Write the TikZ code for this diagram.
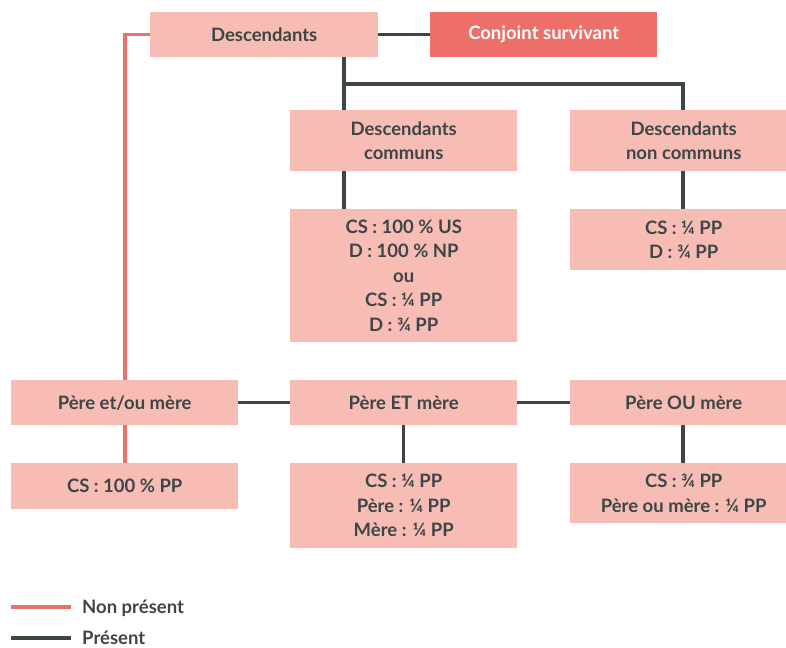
\documentclass[tikz,border=0pt]{standalone}
\usepackage{fontspec}
\setmainfont{Lato}
\usetikzlibrary{positioning}
\definecolor{boxpink}{HTML}{F7BDB5}
\definecolor{boxred}{HTML}{EC7069}
\definecolor{darkline}{HTML}{3E4548}
\definecolor{redline}{HTML}{EC7069}
\tikzset{
    box/.style={
    rectangle,fill=boxpink,text=darkline,anchor=north west,inner sep=0pt,
    minimum width=227pt,minimum height=45pt,align=center,
    font=\bfseries\fontsize{18.5}{24.5}\selectfont
    },
    keybox/.style={
    box,fill=boxred,text=white
    },
    present/.style={
    draw=darkline,line width=3.3pt
    },
    absent/.style={
    draw=redline,line width=3.3pt
    },
    legend/.style={
    text=darkline,inner sep=0pt,anchor=west,text height=13pt,text depth=0pt,
    font=\bfseries\fontsize{18.5}{20}\selectfont
    },
}
\begin{document}
\begin{tikzpicture}[x=1pt, y=-1pt]
   \clip (0,0) rectangle (786,647);
   % boxes
   \node[box, minimum width=228pt] (desc) at (150,12) {Descendants};
   \node[keybox] (conj) at (430,12) {Conjoint survivant};
   \node[box, minimum height=61pt] (dcom) at (290,110) {Descendants\\communs};
   \node[box, minimum height=61pt] (dnon) at (570,110) {Descendants\\non communs};
   \node[box, minimum height=133pt] (rcom) at (290,209) {CS : 100 \% US\\D : 100 \% NP\\ou\\CS : ¼ PP\\D : ¾ PP};
   \node[box, minimum height=61pt] (rnon) at (570,209) {CS : ¼ PP\\D : ¾ PP};
   \node[box] (peou) at (11,380) {Père et/ou mère};
   \node[box] (pet) at (290,380) {Père ET mère};
   \node[box] (pou) at (570,380) {Père OU mère};
   \node[box, minimum height=46pt] (rpeou) at (11,463) {CS : 100 \% PP};
   \node[box, minimum height=85pt] (rpet) at (290,463) {CS : ¼ PP\\Père : ¼ PP\\Mère : ¼ PP};
   \node[box, minimum height=60pt] (rpou) at (570,463) {CS : ¾ PP\\Père ou mère : ¼ PP};

   % connectors
   \coordinate (split) at (344,84);
   \coordinate (splitr) at (683,84);
   \coordinate (lft) at (125,0);
   \draw[present] (desc) -- (conj);
   \draw[present] (split |- desc.south) -- (split |- dcom.north);
   \draw[present] (split) -- (splitr) -- (splitr |- dnon.north);
   \draw[present] (split |- dcom.south) -- (split |- rcom.north);
   \draw[present] (splitr |- dnon.south) -- (splitr |- rnon.north);
   \draw[absent] (desc.west) -| (lft |- peou.north);
   \draw[absent] (lft |- peou.south) -- (lft |- rpeou.north);
   \draw[present] (peou) -- (pet);
   \draw[present] (pet) -- (pou);
   \draw[present] (pet.south) -- (rpet.north);
   \draw[present] (splitr |- pou.south) -- (splitr |- rpou.north);

   % legend
   \coordinate (la) at (11,607);
   \coordinate (lb) at (71,607);
   \coordinate (lc) at (11,638);
   \coordinate (ld) at (71,638);
   \draw[absent] (la) -- (lb);
   \draw[present] (lc) -- (ld);
   \node[legend, right=11pt of lb] (lnon) {Non présent};
   \node[legend, right=11pt of ld] (lpres) {Présent};
\end{tikzpicture}
\end{document}
